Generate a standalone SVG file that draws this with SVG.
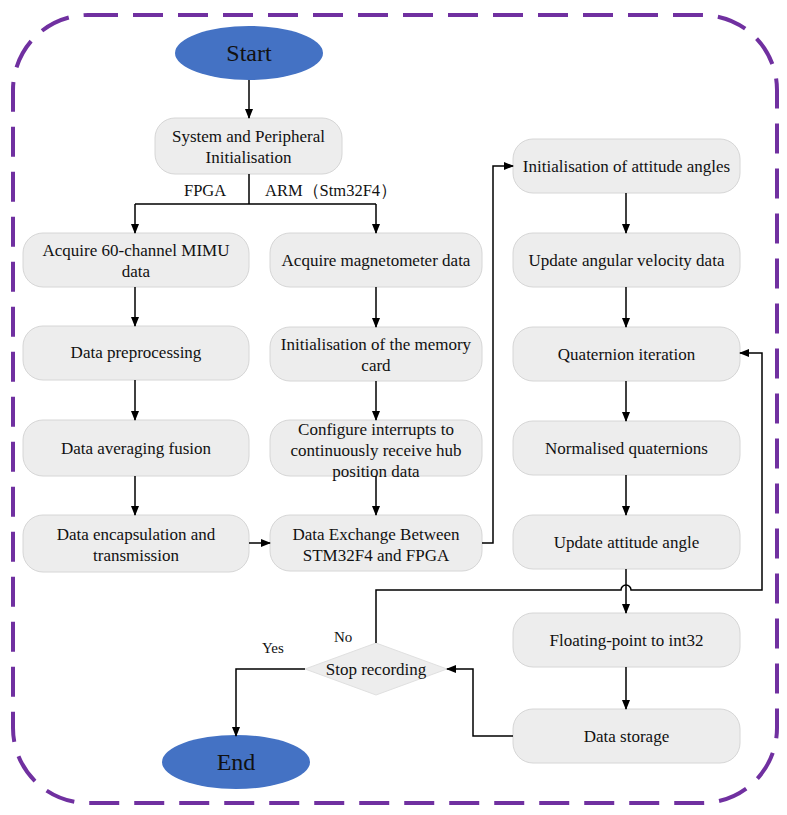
<svg xmlns="http://www.w3.org/2000/svg" width="787" height="815" viewBox="0 0 787 815">
<defs>
<marker id="ah" markerWidth="10" markerHeight="8" refX="9" refY="4" orient="auto" markerUnits="userSpaceOnUse">
<path d="M0,0 L10,4 L0,8 Z" fill="#000"/>
</marker>
<style>
.box{fill:#EDEDED;stroke:#D6D6D6;stroke-width:1}
.t{font-family:"Liberation Serif","Times New Roman",serif;font-size:17px;fill:#111;text-anchor:middle}
.lbl{font-family:"Liberation Serif","Times New Roman",serif;font-size:16.5px;fill:#111}
.sm{font-family:"Liberation Serif","Times New Roman",serif;font-size:15px;fill:#111}
.big{font-family:"Liberation Serif","Times New Roman",serif;font-size:24px;fill:#111;text-anchor:middle}
.ell{fill:#4472C4}
.c{fill:none;stroke:#000;stroke-width:1.5}
.ca{fill:none;stroke:#000;stroke-width:1.5;marker-end:url(#ah)}
</style>
</defs>
<rect x="0" y="0" width="787" height="815" fill="#fff"/>
<rect x="13" y="15" width="764" height="788" rx="75" ry="75" fill="none" stroke="#7030A0" stroke-width="4" stroke-dasharray="30 15"/>

<g id="start"><ellipse class="ell" cx="249" cy="53" rx="74" ry="27"/><text class="big" x="249" y="61">Start</text></g>
<g id="sysinit"><rect class="box" x="155" y="118" width="187" height="56" rx="20"/><text class="t" x="248.5" y="142">System and Peripheral</text><text class="t" x="248.5" y="163">Initialisation</text></g>

<g id="acq60"><rect class="box" x="23" y="233" width="226" height="54" rx="20"/><text class="t" x="136" y="256">Acquire 60-channel MIMU</text><text class="t" x="136" y="277">data</text></g>
<g id="prep"><rect class="box" x="23" y="326" width="226" height="54" rx="20"/><text class="t" x="136" y="358">Data preprocessing</text></g>
<g id="avg"><rect class="box" x="23" y="420" width="226" height="56" rx="20"/><text class="t" x="136" y="454">Data averaging fusion</text></g>
<g id="encap"><rect class="box" x="23" y="515" width="226" height="57" rx="20"/><text class="t" x="136" y="540">Data encapsulation and</text><text class="t" x="136" y="561">transmission</text></g>

<g id="mag"><rect class="box" x="270" y="233" width="212" height="54" rx="20"/><text class="t" x="376" y="266">Acquire magnetometer data</text></g>
<g id="mem"><rect class="box" x="270" y="327" width="212" height="54" rx="20"/><text class="t" x="376" y="350">Initialisation of the memory</text><text class="t" x="376" y="371">card</text></g>
<g id="irq"><rect class="box" x="270" y="420" width="212" height="56" rx="20"/><text class="t" x="376" y="435">Configure interrupts to</text><text class="t" x="376" y="456">continuously receive hub</text><text class="t" x="376" y="477">position data</text></g>
<g id="exch"><rect class="box" x="270" y="515" width="212" height="56" rx="20"/><text class="t" x="376" y="540">Data Exchange Between</text><text class="t" x="376" y="561">STM32F4 and FPGA</text></g>

<g id="initatt"><rect class="box" x="513" y="139" width="227" height="54" rx="20"/><text class="t" x="626.5" y="172">Initialisation of attitude angles</text></g>
<g id="angvel"><rect class="box" x="513" y="233" width="227" height="54" rx="20"/><text class="t" x="626.5" y="266">Update angular velocity data</text></g>
<g id="quat"><rect class="box" x="513" y="327" width="227" height="54" rx="20"/><text class="t" x="626.5" y="360">Quaternion iteration</text></g>
<g id="norm"><rect class="box" x="513" y="421" width="227" height="54" rx="20"/><text class="t" x="626.5" y="454">Normalised quaternions</text></g>
<g id="updatt"><rect class="box" x="513" y="515" width="227" height="54" rx="20"/><text class="t" x="626.5" y="548">Update attitude angle</text></g>
<g id="float"><rect class="box" x="513" y="613" width="227" height="54" rx="20"/><text class="t" x="626.5" y="646">Floating-point to int32</text></g>
<g id="store"><rect class="box" x="513" y="709" width="227" height="54" rx="20"/><text class="t" x="626.5" y="742">Data storage</text></g>

<g id="stop"><polygon points="376,643 447,669 376,695 305,669" fill="#EDEDED" stroke="#E0E0E0" stroke-width="1"/><text class="t" x="376" y="675">Stop recording</text></g>
<g id="end"><ellipse class="ell" cx="236" cy="762" rx="74" ry="27"/><text class="big" x="236" y="770">End</text></g>

<g id="connectors">
<path class="ca" d="M249,80 V118"/>
<path class="c" d="M249,174 V204 M135,204 H376"/>
<path class="ca" d="M135,204 V233"/>
<path class="ca" d="M376,204 V233"/>
<path class="ca" d="M135,287 V326"/>
<path class="ca" d="M135,380 V420"/>
<path class="ca" d="M135,476 V515"/>
<path class="ca" d="M376,287 V327"/>
<path class="ca" d="M376,381 V420"/>
<path class="ca" d="M376,476 V515"/>
<path class="ca" d="M249,543 H270"/>
<path class="ca" d="M482,543 H493 V166 H513"/>
<path class="ca" d="M626,193 V233"/>
<path class="ca" d="M626,287 V327"/>
<path class="ca" d="M626,381 V421"/>
<path class="ca" d="M626,475 V515"/>
<path class="ca" d="M626,569 V613"/>
<path class="ca" d="M626,667 V709"/>
<path class="ca" d="M376,643 V590 H621 A5,5 0 0 1 631,590 H762 V353 H740"/>
<path class="ca" d="M513,736 H473 V669 H447"/>
<path class="ca" d="M305,669 H236 V736"/>
<text class="lbl" x="184" y="196">FPGA</text>
<text class="lbl" x="265" y="196">ARM（Stm32F4）</text>
<text class="sm" x="262" y="653">Yes</text>
<text class="sm" x="334" y="642">No</text>
</g>
</svg>
